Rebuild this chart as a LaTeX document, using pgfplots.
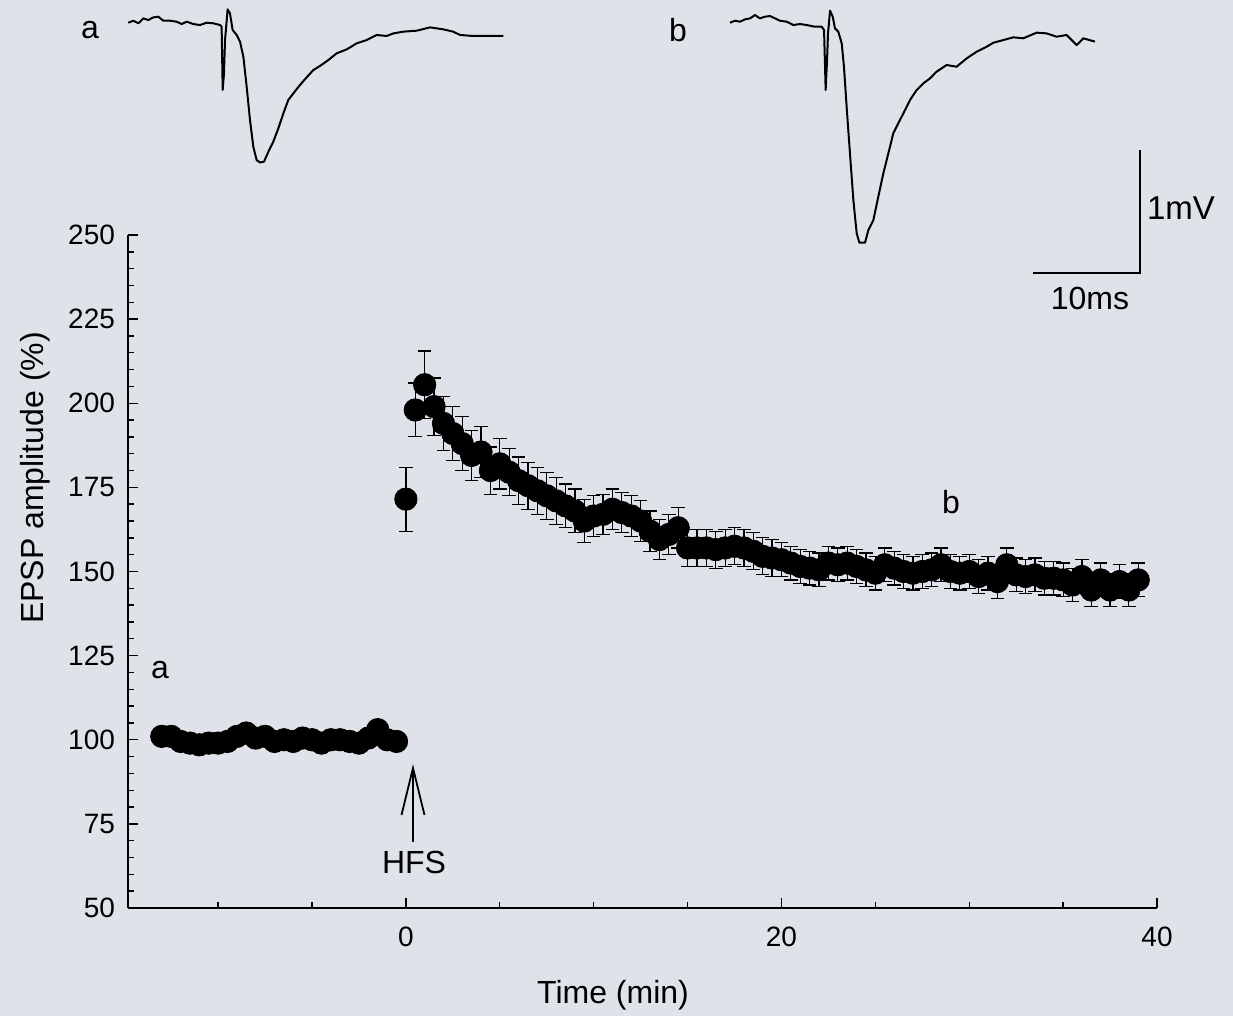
\documentclass[border=0pt]{standalone}
\usepackage{fontspec}
\setmainfont{Liberation Sans}
\usepackage{pgfplots}
\pgfplotsset{compat=1.18}
\usepackage{pgfplotstable}
\usetikzlibrary{arrows.meta}
\definecolor{bg}{RGB}{223,227,233}

\pgfplotstableread{
t y
-13 101
-12.5 101
-12 99.5
-11.5 99
-11 98.5
-10.5 99
-10 99
-9.5 99.5
-9 101
-8.5 102
-8 100.5
-7.5 101
-7 99.5
-6.5 100
-6 99.5
-5.5 100.5
-5 100
-4.5 99
-4 100
-3.5 100
-3 99.5
-2.5 99
-2 100.5
-1.5 103
-1 100
-0.5 99.5
}\pre

\pgfplotstableread{
t y e
0 171.5 9.5
0.5 198 8
1 205.5 10
1.5 199 8.5
2 194 8
2.5 191 8
3 188 8
3.5 184.5 7.5
4 185.5 7.5
4.5 180 7
5 182 7.5
5.5 179.5 7
6 177 7
6.5 175.5 7
7 174 7
7.5 172.5 7
8 171 7
8.5 169.5 6.5
9 168 6.5
9.5 165 6.5
10 166.5 6
10.5 167 6
11 168.5 6
11.5 167.5 6
12 166.5 6
12.5 165 6
13 162 6
13.5 159.5 6
14 161 6
14.5 163 6
15 157 5.5
15.5 157 5.5
16 157 5.5
16.5 156.5 5.5
17 157 5.5
17.5 157.5 5.5
18 157 5.5
18.5 156 5.5
19 154.5 5.5
19.5 154 5.5
20 153.5 5
20.5 152.5 5
21 151.5 5
21.5 151 5
22 150.5 5
22.5 152.5 5
23 152 5
23.5 152.5 5
24 151.5 5
24.5 150.5 5
25 149.5 5
25.5 152 5
26 151 5
26.5 150 5
27 149.5 5
27.5 150 5
28 150.5 5
28.5 152 5
29 150 5
29.5 149.5 5
30 150 5
30.5 148.5 5
31 149.5 5
31.5 147 5
32 152 5
32.5 149 5
33 148.5 5
33.5 149 5
34 148 5
34.5 148 5
35 147.5 5
35.5 146 5
36 148.5 5
36.5 144.5 5
37 147.5 5
37.5 144.5 5
38 147 5
38.5 144.5 5
39 147.5 5
}\post

\pgfplotstableread{
ms mv
0.03 0
0.50 0.016
0.97 -0.005
1.43 0.035
1.90 0.022
2.37 0.043
2.83 0.049
3.30 0.016
3.93 0.016
4.55 0.008
5.02 -0.011
5.48 0.008
6.11 -0.011
6.73 -0.019
7.35 0
7.98 -0.005
8.60 -0.019
8.75 -0.033
8.85 -0.547
8.97 -0.412
9.07 -0.141
9.31 0.108
9.53 0.076
9.78 -0.060
10.16 -0.100
10.47 -0.154
10.78 -0.276
11.09 -0.520
11.40 -0.791
11.71 -1.008
12.02 -1.117
12.34 -1.136
12.71 -1.130
13.12 -1.049
13.58 -0.967
14.05 -0.859
14.52 -0.737
14.98 -0.629
15.45 -0.575
16.07 -0.507
16.70 -0.444
17.32 -0.385
17.94 -0.352
18.72 -0.304
19.50 -0.249
20.44 -0.217
21.37 -0.168
22.30 -0.141
23.24 -0.100
24.17 -0.108
24.80 -0.087
25.73 -0.073
26.98 -0.065
28.22 -0.038
29.47 -0.054
30.40 -0.073
31.03 -0.100
32.27 -0.108
33.52 -0.108
35.08 -0.108
}\tracea

\pgfplotstableread{
ms mv
0 0
0.47 0.016
0.93 0.008
1.40 0.027
1.87 0.035
2.34 0.062
2.80 0.035
3.27 0.049
3.74 0.054
4.21 0.035
4.67 0.016
5.30 0.008
5.92 -0.019
6.54 -0.011
7.17 -0.019
7.94 -0.033
8.57 -0.033
8.79 -0.060
8.94 -0.547
9.07 -0.304
9.16 -0.087
9.35 0.098
9.60 0.049
9.81 -0.046
10.12 -0.073
10.44 -0.168
10.65 -0.358
10.90 -0.683
11.21 -1.062
11.53 -1.442
11.84 -1.713
12.09 -1.789
12.62 -1.789
12.93 -1.686
13.40 -1.604
13.86 -1.415
14.33 -1.225
14.80 -1.062
15.26 -0.900
15.73 -0.818
16.20 -0.737
16.82 -0.629
17.45 -0.547
18.07 -0.493
18.69 -0.453
19.31 -0.398
20.25 -0.344
21.18 -0.358
22.12 -0.290
23.05 -0.236
23.99 -0.195
24.61 -0.163
25.55 -0.141
26.48 -0.119
27.41 -0.127
28.66 -0.081
29.60 -0.087
30.53 -0.114
31.46 -0.100
32.40 -0.182
33.02 -0.127
34.11 -0.154
}\traceb

\begin{document}
\begin{tikzpicture}
\fill[bg] (0,0) rectangle (616.5pt,508pt);

% main plot
\begin{axis}[
  at={(64pt,54pt)}, anchor=south west,
  scale only axis, width=514.5pt, height=336.5pt,
  xmin=-14.8, xmax=40, ymin=50, ymax=250,
  axis x line*=bottom, axis y line*=left,
  axis line style={-, line width=0.9pt},
  xtick={0,20,40},
  minor xtick={-10,-5,5,10,15,25,30,35},
  ytick={50,75,...,250},
  minor y tick num=4,
  tick align=inside,
  major tick length=5pt, minor tick length=3pt,
  tick style={black, line width=0.7pt},
  ticklabel style={font=\fontsize{14}{16}\selectfont},
  /pgf/number format/assume math mode=true,
  xticklabel style={yshift=-6pt},
  yticklabel style={xshift=-3pt},
  clip=false,
]
\addplot[only marks, mark=*, mark size=5.6pt, black] table[x=t, y=y] {\pre};
\addplot[only marks, mark=*, mark size=5.6pt, black,
  error bars/.cd, y dir=both, y explicit,
  error bar style={line width=0.6pt, black},
  error mark options={rotate=90, mark size=3.4pt, line width=0.6pt, black}]
  table[x=t, y=y, y error=e] {\post};
\end{axis}

% trace a
\begin{axis}[at={(64pt,373.65pt)}, anchor=south west,
  x=5.35pt, y=61.5pt, xmin=0, xmax=36, ymin=-2, ymax=0.15,
  hide axis, clip=false]
\addplot[black, line width=1pt, line join=round] table[x=ms, y=mv] {\tracea};
\end{axis}

% trace b
\begin{axis}[at={(365pt,373.65pt)}, anchor=south west,
  x=5.35pt, y=61.5pt, xmin=0, xmax=36, ymin=-2, ymax=0.15,
  hide axis, clip=false]
\addplot[black, line width=1pt, line join=round] table[x=ms, y=mv] {\traceb};
\end{axis}

\begin{scope}[shift={(0pt,508pt)}, x=0.5pt, y=-0.5pt]
  \draw[line width=1.1pt] (1140,150) -- (1140,273) -- (1033,273);
  \node[font=\fontsize{16.5}{18}\selectfont] at (1181,208) {1mV};
  \node[font=\fontsize{16}{18}\selectfont] at (1090,298) {10ms};
  \node[font=\fontsize{16}{18}\selectfont] at (90,30) {a};
  \node[font=\fontsize{16}{18}\selectfont] at (678,30) {b};
  \node[font=\fontsize{16}{18}\selectfont] at (160,670) {a};
  \node[font=\fontsize{16}{18}\selectfont] at (951,502) {b};
  \draw[line width=0.9pt] (413,842) -- (413,769);
  \draw[line width=0.9pt] (401.5,815) -- (413,768) -- (424.5,815);
  \node[font=\fontsize{16}{18}\selectfont] at (414,862) {HFS};
  \node[font=\fontsize{16}{18}\selectfont] at (613,995) {Time (min)};
  \node[font=\fontsize{16}{18}\selectfont, rotate=90] at (35,478) {EPSP amplitude (\%)};
\end{scope}
\end{tikzpicture}
\end{document}
